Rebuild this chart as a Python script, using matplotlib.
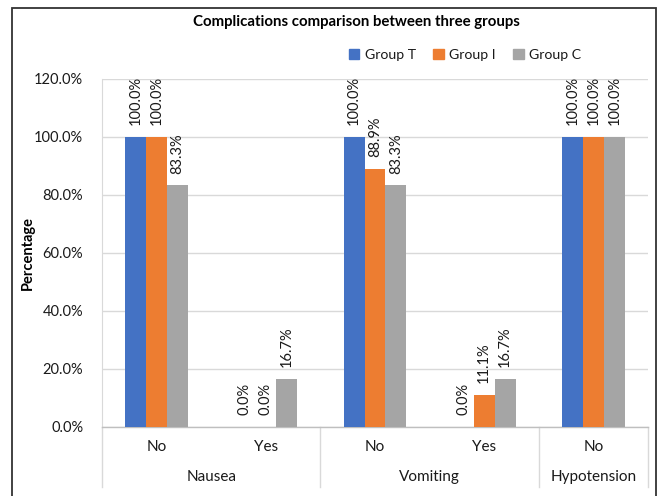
import matplotlib
matplotlib.use("Agg")
import matplotlib.pyplot as plt
from matplotlib.patches import Rectangle, Patch
from matplotlib.lines import Line2D
import numpy as np

plt.rcParams['font.family'] = ['Lato', 'DejaVu Sans']

# Data
complications = ["Nausea", "Vomiting", "Hypotension"]
responses = [["No", "Yes"], ["No", "Yes"], ["No"]]
series_names = ["Group T", "Group I", "Group C"]
group_t = [100.0, 0.0, 100.0, 0.0, 100.0]
group_i = [100.0, 0.0, 88.9, 11.1, 100.0]
group_c = [83.3, 16.7, 83.3, 16.7, 100.0]
y_ticks = [0, 20, 40, 60, 80, 100, 120]

colors = ["#4472C4", "#ED7D31", "#A5A5A5"]
grid_col = "#D9D9D9"

fig = plt.figure(figsize=(6.62, 4.96), dpi=100)
W, H = 662, 496
ax_h = 427 - 79
ax_w = 648 - 102
ax = fig.add_axes([102 / W, 1 - 427 / H, ax_w / W, ax_h / H])

n = len(group_t)
x = np.arange(n)
bw = 0.192
series = [group_t, group_i, group_c]
for k, (vals, col) in enumerate(zip(series, colors)):
    xs = x + (k - 1) * bw
    ax.bar(xs, vals, width=bw, color=col, zorder=3)
    for xi, v in zip(xs, vals):
        ax.annotate(f"{v:.1f}%", (xi, v), xytext=(0, 8.5), textcoords="offset points",
                    rotation=90, ha="center", va="bottom", fontsize=10.5,
                    color="#1a1a1a", annotation_clip=False)

ax.set_xlim(-0.5, n - 0.5)
ax.set_ylim(0, 120)
ax.set_yticks(y_ticks)
ax.set_yticklabels([f"{t:.1f}%" for t in y_ticks], fontsize=10.5, color="#1a1a1a")
ax.tick_params(axis="y", length=0, pad=13.5)
ax.set_xticks([])
ax.yaxis.grid(True, color=grid_col, linewidth=1.0, zorder=0)
ax.set_axisbelow(True)
for s in ["top", "right"]:
    ax.spines[s].set_visible(False)
ax.spines["left"].set_color(grid_col)
ax.spines["bottom"].set_color("#BFBFBF")
ax.spines["bottom"].set_linewidth(1.0)

ax.set_ylabel("Percentage", fontsize=10.5, fontweight="bold")
ax.yaxis.set_label_coords((35 - 102) / ax_w, 0.5)

# Two-level category axis
trans = ax.get_xaxis_transform()
depth = -60 / ax_h
pos = 0
bounds = [-0.5]
for comp, resp in zip(complications, responses):
    for r in resp:
        ax.text(pos, -20 / ax_h, r, transform=trans, ha="center", va="center",
                fontsize=11, color="#1a1a1a")
        pos += 1
    start = bounds[-1]
    end = pos - 0.5
    ax.text((start + end) / 2, -50 / ax_h, comp, transform=trans, ha="center",
            va="center", fontsize=11, color="#1a1a1a")
    bounds.append(end)
for b in bounds:
    ax.add_line(Line2D([b, b], [0, depth], transform=trans, color=grid_col,
                       linewidth=1.0, clip_on=False))

# Title and legend
fig.text(356 / W, 1 - 22 / H, "Complications comparison between three groups",
         ha="center", va="center", fontsize=10.8, fontweight="bold", color="#000000")
handles = [Patch(facecolor=c, edgecolor=c) for c in colors]
fig.legend(handles, series_names, loc="center", bbox_to_anchor=(465 / W, 1 - 55 / H),
           ncol=3, frameon=False, fontsize=10.2, handlelength=0.75, handleheight=0.75,
           handletextpad=0.4, columnspacing=1.2, labelcolor="#1a1a1a")

# Outer frame
fig.add_artist(Rectangle((12 / W, -0.05), (656 - 12) / W, 1.05 - 8 / H,
                         transform=fig.transFigure, fill=False, edgecolor="#333333",
                         linewidth=1.3, clip_on=False))

fig.savefig("out.png", dpi=100)
